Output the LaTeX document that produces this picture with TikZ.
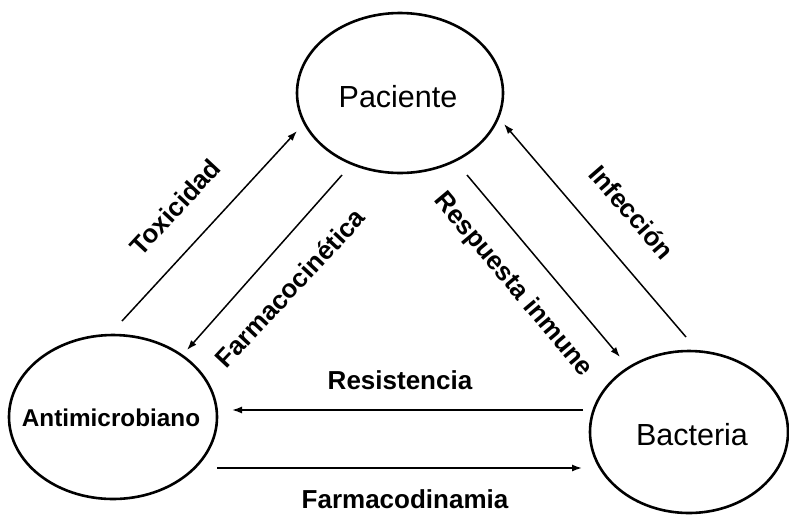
\documentclass[tikz,border=0pt]{standalone}
\usepackage{fontspec}
\setmainfont{Liberation Sans}
\usetikzlibrary{shapes.geometric,arrows.meta}
\begin{document}
\begin{tikzpicture}[x=1pt,y=-1pt,
  ell/.style={draw,ellipse,line width=2.6pt,inner sep=0pt},
  conn/.style={line width=1.5pt,-{Latex[length=10pt,width=7pt]}},
  lbl/.style={font=\fontsize{26}{30}\selectfont\bfseries,inner sep=0pt}]
\useasboundingbox (0,0) rectangle (789,515);
\node[ell,minimum width=206pt,minimum height=160pt] (pac) at (400,93) {};
\node[font=\fontsize{30.5}{34}\selectfont] (pact) at (398,97) {Paciente};
\node[ell,minimum width=208pt,minimum height=164pt] (ant) at (113,417) {};
\node[font=\fontsize{24.3}{28}\selectfont\bfseries] (antt) at (111,418) {Antimicrobiano};
\node[ell,minimum width=198pt,minimum height=162pt] (bac) at (689,432) {};
\node[font=\fontsize{30.5}{34}\selectfont] (bact) at (692,435) {Bacteria};
% endpoints
\coordinate (t1) at (122,321); \coordinate (t2) at (297,131);
\coordinate (f1) at (342,175); \coordinate (f2) at (187,350);
\coordinate (r1) at (467,175); \coordinate (r2) at (620,357);
\coordinate (i1) at (686,337); \coordinate (i2) at (504,124);
\coordinate (s1) at (583,410); \coordinate (s2) at (232,410);
\coordinate (d1) at (217,468); \coordinate (d2) at (582,468);
\draw[conn] (t1) -- (t2);
\draw[conn] (f1) -- (f2);
\draw[conn] (r1) -- (r2);
\draw[conn] (i1) -- (i2);
\draw[conn] (s1) -- (s2);
\draw[conn] (d1) -- (d2);
% labels
\node[lbl,rotate=47] (ltox) at (175,207) {Toxicidad};
\node[lbl,rotate=47] (lfar) at (290,288) {Farmacocinética};
\node[lbl,rotate=-50] (lres) at (513,285) {Respuesta inmune};
\node[lbl,rotate=-49] (linf) at (632,212) {Infección};
\node[lbl] (lresis) at (400,380) {Resistencia};
\node[lbl] (lfd) at (405,499) {Farmacodinamia};
\end{tikzpicture}
\end{document}
